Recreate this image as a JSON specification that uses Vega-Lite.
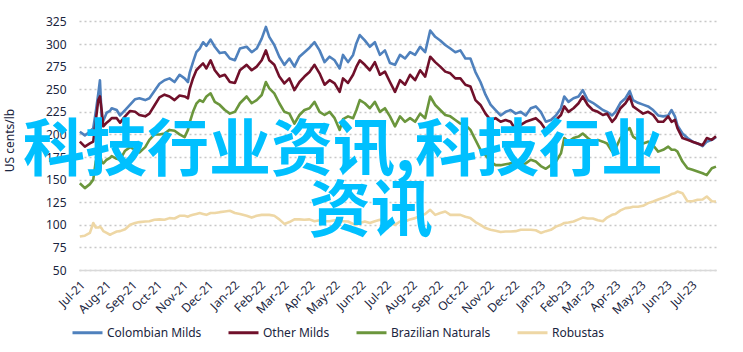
{
"$schema": "https://vega.github.io/schema/vega-lite/v6.json",
"width": 637, "height": 249,
"autosize": "none",
"padding": {"left": 79, "top": 21, "right": 27, "bottom": 82},
"background": "white",
"config": {"view": {"stroke": null}, "font": "Noto Sans"},
"resolve": {"scale": {"y": "shared", "x": "shared"}},
"layer": [
{
"data": {"values": [
{"date":"2021/07/02","Colombian Milds":203,"Other Milds":192,"Brazilian Naturals":146,"Robustas":87},
{"date":"2021/07/08","Colombian Milds":199,"Other Milds":186.5,"Brazilian Naturals":140.6,"Robustas":88},
{"date":"2021/07/14","Colombian Milds":203,"Other Milds":190,"Brazilian Naturals":145,"Robustas":91},
{"date":"2021/07/18","Colombian Milds":207,"Other Milds":192,"Brazilian Naturals":150,"Robustas":102},
{"date":"2021/07/21","Colombian Milds":225,"Other Milds":215,"Brazilian Naturals":170,"Robustas":97},
{"date":"2021/07/24","Colombian Milds":245,"Other Milds":238,"Brazilian Naturals":180,"Robustas":97},
{"date":"2021/07/26","Colombian Milds":260,"Other Milds":242,"Brazilian Naturals":178,"Robustas":98},
{"date":"2021/07/28","Colombian Milds":219,"Other Milds":227,"Brazilian Naturals":170,"Robustas":96},
{"date":"2021/07/30","Colombian Milds":215,"Other Milds":209,"Brazilian Naturals":168,"Robustas":93},
{"date":"2021/08/03","Colombian Milds":224,"Other Milds":213,"Brazilian Naturals":172,"Robustas":91},
{"date":"2021/08/07","Colombian Milds":226,"Other Milds":216,"Brazilian Naturals":174,"Robustas":89},
{"date":"2021/08/09","Colombian Milds":229,"Other Milds":218,"Brazilian Naturals":176,"Robustas":90},
{"date":"2021/08/15","Colombian Milds":227,"Other Milds":218,"Brazilian Naturals":173,"Robustas":92.6},
{"date":"2021/08/19","Colombian Milds":221,"Other Milds":213,"Brazilian Naturals":172,"Robustas":93},
{"date":"2021/08/25","Colombian Milds":227,"Other Milds":220,"Brazilian Naturals":182,"Robustas":95},
{"date":"2021/08/31","Colombian Milds":233,"Other Milds":226,"Brazilian Naturals":186,"Robustas":100},
{"date":"2021/09/06","Colombian Milds":239,"Other Milds":225,"Brazilian Naturals":183,"Robustas":102},
{"date":"2021/09/11","Colombian Milds":240,"Other Milds":221.5,"Brazilian Naturals":180,"Robustas":103},
{"date":"2021/09/18","Colombian Milds":238,"Other Milds":220,"Brazilian Naturals":186,"Robustas":103.7},
{"date":"2021/09/23","Colombian Milds":240,"Other Milds":223,"Brazilian Naturals":194,"Robustas":104},
{"date":"2021/09/29","Colombian Milds":248,"Other Milds":232,"Brazilian Naturals":200,"Robustas":105.6},
{"date":"2021/10/05","Colombian Milds":256,"Other Milds":241,"Brazilian Naturals":200,"Robustas":106},
{"date":"2021/10/11","Colombian Milds":260,"Other Milds":244,"Brazilian Naturals":201,"Robustas":105.6},
{"date":"2021/10/17","Colombian Milds":262,"Other Milds":242,"Brazilian Naturals":205,"Robustas":107.4},
{"date":"2021/10/23","Colombian Milds":258,"Other Milds":238,"Brazilian Naturals":204,"Robustas":107},
{"date":"2021/10/29","Colombian Milds":266,"Other Milds":243,"Brazilian Naturals":200,"Robustas":110},
{"date":"2021/11/04","Colombian Milds":262,"Other Milds":242,"Brazilian Naturals":197,"Robustas":110},
{"date":"2021/11/08","Colombian Milds":258,"Other Milds":240,"Brazilian Naturals":205,"Robustas":109},
{"date":"2021/11/10","Colombian Milds":268,"Other Milds":250,"Brazilian Naturals":213,"Robustas":110},
{"date":"2021/11/14","Colombian Milds":280,"Other Milds":262,"Brazilian Naturals":225,"Robustas":111},
{"date":"2021/11/18","Colombian Milds":291,"Other Milds":271,"Brazilian Naturals":234,"Robustas":112},
{"date":"2021/11/22","Colombian Milds":295,"Other Milds":275,"Brazilian Naturals":238,"Robustas":113},
{"date":"2021/11/26","Colombian Milds":302,"Other Milds":278.6,"Brazilian Naturals":236,"Robustas":112},
{"date":"2021/11/30","Colombian Milds":298,"Other Milds":273,"Brazilian Naturals":242,"Robustas":111},
{"date":"2021/12/05","Colombian Milds":305,"Other Milds":282,"Brazilian Naturals":245.5,"Robustas":113},
{"date":"2021/12/10","Colombian Milds":297,"Other Milds":271,"Brazilian Naturals":236,"Robustas":113},
{"date":"2021/12/16","Colombian Milds":290,"Other Milds":264,"Brazilian Naturals":232.6,"Robustas":114},
{"date":"2021/12/22","Colombian Milds":291,"Other Milds":266,"Brazilian Naturals":227,"Robustas":114.7},
{"date":"2021/12/28","Colombian Milds":284,"Other Milds":258,"Brazilian Naturals":223,"Robustas":115.5},
{"date":"2022/01/03","Colombian Milds":282,"Other Milds":257,"Brazilian Naturals":225,"Robustas":113},
{"date":"2022/01/09","Colombian Milds":295,"Other Milds":271,"Brazilian Naturals":234.5,"Robustas":112},
{"date":"2022/01/17","Colombian Milds":297,"Other Milds":277,"Brazilian Naturals":242,"Robustas":110},
{"date":"2022/01/23","Colombian Milds":291,"Other Milds":271,"Brazilian Naturals":234.5,"Robustas":108},
{"date":"2022/01/29","Colombian Milds":295,"Other Milds":275,"Brazilian Naturals":238,"Robustas":110},
{"date":"2022/02/04","Colombian Milds":306,"Other Milds":282,"Brazilian Naturals":243.6,"Robustas":111},
{"date":"2022/02/09","Colombian Milds":319,"Other Milds":293,"Brazilian Naturals":258,"Robustas":111},
{"date":"2022/02/13","Colombian Milds":308,"Other Milds":282,"Brazilian Naturals":251,"Robustas":111},
{"date":"2022/02/19","Colombian Milds":299,"Other Milds":277,"Brazilian Naturals":245.5,"Robustas":110},
{"date":"2022/02/25","Colombian Milds":286,"Other Milds":264,"Brazilian Naturals":234.5,"Robustas":106},
{"date":"2022/03/03","Colombian Milds":277,"Other Milds":256.5,"Brazilian Naturals":225,"Robustas":101},
{"date":"2022/03/09","Colombian Milds":284,"Other Milds":262,"Brazilian Naturals":223,"Robustas":103},
{"date":"2022/03/15","Colombian Milds":275,"Other Milds":249,"Brazilian Naturals":212,"Robustas":106},
{"date":"2022/03/21","Colombian Milds":286,"Other Milds":258,"Brazilian Naturals":221.5,"Robustas":106},
{"date":"2022/03/27","Colombian Milds":291,"Other Milds":264,"Brazilian Naturals":227,"Robustas":105.6},
{"date":"2022/04/02","Colombian Milds":296,"Other Milds":269,"Brazilian Naturals":229,"Robustas":106},
{"date":"2022/04/08","Colombian Milds":302,"Other Milds":277,"Brazilian Naturals":236,"Robustas":104},
{"date":"2022/04/14","Colombian Milds":293,"Other Milds":267.6,"Brazilian Naturals":225,"Robustas":105},
{"date":"2022/04/20","Colombian Milds":280,"Other Milds":255,"Brazilian Naturals":221.5,"Robustas":104},
{"date":"2022/04/26","Colombian Milds":286,"Other Milds":260,"Brazilian Naturals":225,"Robustas":104},
{"date":"2022/05/02","Colombian Milds":282,"Other Milds":256.5,"Brazilian Naturals":218,"Robustas":105},
{"date":"2022/05/08","Colombian Milds":273,"Other Milds":247,"Brazilian Naturals":205,"Robustas":104},
{"date":"2022/05/12","Colombian Milds":288,"Other Milds":262,"Brazilian Naturals":217,"Robustas":104},
{"date":"2022/05/18","Colombian Milds":280,"Other Milds":257,"Brazilian Naturals":220,"Robustas":103.7},
{"date":"2022/05/24","Colombian Milds":288,"Other Milds":266,"Brazilian Naturals":218,"Robustas":101},
{"date":"2022/05/28","Colombian Milds":301,"Other Milds":275,"Brazilian Naturals":227,"Robustas":100},
{"date":"2022/06/01","Colombian Milds":310,"Other Milds":282,"Brazilian Naturals":238,"Robustas":102},
{"date":"2022/06/07","Colombian Milds":304,"Other Milds":277,"Brazilian Naturals":234.5,"Robustas":103.7},
{"date":"2022/06/13","Colombian Milds":297,"Other Milds":271,"Brazilian Naturals":229,"Robustas":102},
{"date":"2022/06/19","Colombian Milds":302,"Other Milds":280,"Brazilian Naturals":236,"Robustas":104},
{"date":"2022/06/25","Colombian Milds":288,"Other Milds":266,"Brazilian Naturals":225,"Robustas":105.6},
{"date":"2022/07/01","Colombian Milds":293,"Other Milds":269.5,"Brazilian Naturals":229,"Robustas":104},
{"date":"2022/07/07","Colombian Milds":279,"Other Milds":258,"Brazilian Naturals":220,"Robustas":102},
{"date":"2022/07/13","Colombian Milds":277,"Other Milds":247,"Brazilian Naturals":209,"Robustas":100},
{"date":"2022/07/19","Colombian Milds":288,"Other Milds":260,"Brazilian Naturals":220,"Robustas":103.7},
{"date":"2022/07/25","Colombian Milds":284,"Other Milds":255,"Brazilian Naturals":214,"Robustas":103.7},
{"date":"2022/07/31","Colombian Milds":291,"Other Milds":266,"Brazilian Naturals":218,"Robustas":106},
{"date":"2022/08/06","Colombian Milds":288,"Other Milds":260,"Brazilian Naturals":214,"Robustas":107.4},
{"date":"2022/08/12","Colombian Milds":297,"Other Milds":271,"Brazilian Naturals":223,"Robustas":110},
{"date":"2022/08/18","Colombian Milds":291,"Other Milds":264,"Brazilian Naturals":218,"Robustas":112},
{"date":"2022/08/24","Colombian Milds":315,"Other Milds":286,"Brazilian Naturals":242,"Robustas":116.6},
{"date":"2022/08/30","Colombian Milds":308,"Other Milds":280,"Brazilian Naturals":232.6,"Robustas":111},
{"date":"2022/09/05","Colombian Milds":304,"Other Milds":275,"Brazilian Naturals":227,"Robustas":113},
{"date":"2022/09/11","Colombian Milds":299,"Other Milds":269.5,"Brazilian Naturals":221.5,"Robustas":114.7},
{"date":"2022/09/17","Colombian Milds":295,"Other Milds":267.6,"Brazilian Naturals":220,"Robustas":111},
{"date":"2022/09/23","Colombian Milds":291,"Other Milds":262,"Brazilian Naturals":216,"Robustas":111},
{"date":"2022/09/29","Colombian Milds":293,"Other Milds":262,"Brazilian Naturals":212,"Robustas":111},
{"date":"2022/10/05","Colombian Milds":284,"Other Milds":255,"Brazilian Naturals":210.5,"Robustas":109},
{"date":"2022/10/11","Colombian Milds":284,"Other Milds":253,"Brazilian Naturals":205,"Robustas":107.4},
{"date":"2022/10/17","Colombian Milds":269,"Other Milds":238,"Brazilian Naturals":194,"Robustas":103},
{"date":"2022/10/23","Colombian Milds":258,"Other Milds":232.6,"Brazilian Naturals":183,"Robustas":100},
{"date":"2022/10/29","Colombian Milds":244,"Other Milds":223,"Brazilian Naturals":177,"Robustas":96.4},
{"date":"2022/11/04","Colombian Milds":233,"Other Milds":216,"Brazilian Naturals":170,"Robustas":94.5},
{"date":"2022/11/10","Colombian Milds":227,"Other Milds":218,"Brazilian Naturals":166,"Robustas":93.5},
{"date":"2022/11/16","Colombian Milds":221,"Other Milds":214,"Brazilian Naturals":166,"Robustas":92},
{"date":"2022/11/22","Colombian Milds":225,"Other Milds":216,"Brazilian Naturals":167,"Robustas":92.6},
{"date":"2022/11/28","Colombian Milds":227,"Other Milds":214,"Brazilian Naturals":168,"Robustas":92.6},
{"date":"2022/12/04","Colombian Milds":223,"Other Milds":205,"Brazilian Naturals":170,"Robustas":93},
{"date":"2022/12/10","Colombian Milds":225,"Other Milds":210.5,"Brazilian Naturals":166,"Robustas":94.5},
{"date":"2022/12/16","Colombian Milds":221,"Other Milds":214,"Brazilian Naturals":168,"Robustas":94.5},
{"date":"2022/12/22","Colombian Milds":229,"Other Milds":216,"Brazilian Naturals":172,"Robustas":94.5},
{"date":"2022/12/28","Colombian Milds":231,"Other Milds":218,"Brazilian Naturals":170,"Robustas":94},
{"date":"2023/01/03","Colombian Milds":225,"Other Milds":213,"Brazilian Naturals":165,"Robustas":91},
{"date":"2023/01/09","Colombian Milds":214,"Other Milds":205,"Brazilian Naturals":162,"Robustas":93},
{"date":"2023/01/15","Colombian Milds":216,"Other Milds":209,"Brazilian Naturals":166,"Robustas":94.5},
{"date":"2023/01/21","Colombian Milds":221,"Other Milds":216,"Brazilian Naturals":170,"Robustas":98},
{"date":"2023/01/27","Colombian Milds":229,"Other Milds":221.5,"Brazilian Naturals":179,"Robustas":100},
{"date":"2023/01/31","Colombian Milds":242,"Other Milds":231,"Brazilian Naturals":196,"Robustas":102},
{"date":"2023/02/05","Colombian Milds":236,"Other Milds":225,"Brazilian Naturals":192,"Robustas":102.5},
{"date":"2023/02/11","Colombian Milds":240,"Other Milds":229,"Brazilian Naturals":196,"Robustas":103.7},
{"date":"2023/02/17","Colombian Milds":242,"Other Milds":234.5,"Brazilian Naturals":197.6,"Robustas":106},
{"date":"2023/02/22","Colombian Milds":249,"Other Milds":242,"Brazilian Naturals":201,"Robustas":108},
{"date":"2023/02/28","Colombian Milds":238,"Other Milds":232.6,"Brazilian Naturals":196,"Robustas":107},
{"date":"2023/03/06","Colombian Milds":235,"Other Milds":227,"Brazilian Naturals":192,"Robustas":107},
{"date":"2023/03/12","Colombian Milds":231,"Other Milds":225,"Brazilian Naturals":194,"Robustas":105},
{"date":"2023/03/18","Colombian Milds":227,"Other Milds":221.5,"Brazilian Naturals":192,"Robustas":104},
{"date":"2023/03/23","Colombian Milds":225,"Other Milds":223,"Brazilian Naturals":190,"Robustas":108},
{"date":"2023/03/29","Colombian Milds":221,"Other Milds":214,"Brazilian Naturals":181,"Robustas":111},
{"date":"2023/04/02","Colombian Milds":225,"Other Milds":218,"Brazilian Naturals":184,"Robustas":112},
{"date":"2023/04/08","Colombian Milds":235,"Other Milds":229,"Brazilian Naturals":196,"Robustas":116},
{"date":"2023/04/14","Colombian Milds":240,"Other Milds":234.5,"Brazilian Naturals":203,"Robustas":118.5},
{"date":"2023/04/19","Colombian Milds":248,"Other Milds":242,"Brazilian Naturals":207,"Robustas":119},
{"date":"2023/04/23","Colombian Milds":238,"Other Milds":231,"Brazilian Naturals":197.6,"Robustas":120},
{"date":"2023/04/29","Colombian Milds":235,"Other Milds":227,"Brazilian Naturals":194,"Robustas":120},
{"date":"2023/05/05","Colombian Milds":233,"Other Milds":223,"Brazilian Naturals":190,"Robustas":121},
{"date":"2023/05/11","Colombian Milds":231,"Other Milds":225,"Brazilian Naturals":192,"Robustas":124},
{"date":"2023/05/17","Colombian Milds":227,"Other Milds":221.5,"Brazilian Naturals":188,"Robustas":125.8},
{"date":"2023/05/23","Colombian Milds":221,"Other Milds":214,"Brazilian Naturals":181,"Robustas":128},
{"date":"2023/05/29","Colombian Milds":220,"Other Milds":214,"Brazilian Naturals":183,"Robustas":130},
{"date":"2023/06/04","Colombian Milds":221,"Other Milds":220,"Brazilian Naturals":186.5,"Robustas":132},
{"date":"2023/06/08","Colombian Milds":227,"Other Milds":214,"Brazilian Naturals":183,"Robustas":134},
{"date":"2023/06/12","Colombian Milds":220,"Other Milds":216,"Brazilian Naturals":183,"Robustas":135},
{"date":"2023/06/15","Colombian Milds":210,"Other Milds":207,"Brazilian Naturals":181,"Robustas":136.8},
{"date":"2023/06/21","Colombian Milds":201,"Other Milds":196,"Brazilian Naturals":170,"Robustas":135},
{"date":"2023/06/27","Colombian Milds":196,"Other Milds":194,"Brazilian Naturals":162.6,"Robustas":126},
{"date":"2023/07/03","Colombian Milds":192,"Other Milds":192,"Brazilian Naturals":161,"Robustas":126},
{"date":"2023/07/09","Colombian Milds":190,"Other Milds":190,"Brazilian Naturals":159,"Robustas":127.7},
{"date":"2023/07/15","Colombian Milds":187,"Other Milds":188,"Brazilian Naturals":157,"Robustas":128},
{"date":"2023/07/20","Colombian Milds":192,"Other Milds":196,"Brazilian Naturals":155,"Robustas":131.3},
{"date":"2023/07/26","Colombian Milds":194,"Other Milds":194,"Brazilian Naturals":162.6,"Robustas":126},
{"date":"2023/07/31","Colombian Milds":197,"Other Milds":198,"Brazilian Naturals":164.4,"Robustas":125.8}
]},
"transform": [{"fold": ["Colombian Milds","Other Milds","Brazilian Naturals","Robustas"], "as": ["series","value"]}],
"mark": {"type": "line", "strokeWidth": 2.6, "strokeJoin": "round"},
"encoding": {
"x": {"field": "date", "type": "temporal",
 "scale": {"domain": [{"year":2021,"month":7,"date":1},{"year":2023,"month":7,"date":31}], "nice": false},
 "axis": {"title": null, "format": "%b-%y", "tickCount": {"interval":"month","step":1}, "labelAngle": -45, "labelAlign": "right", "labelBaseline": "top", "labelPadding": 9, "labelFontSize": 12, "labelColor": "#1a2540", "ticks": false, "grid": false, "domainColor": "#d9d9d9", "domainWidth": 1.5, "labelOverlap": false, "labelFlush": false, "labelBound": false}},
"y": {"field": "value", "type": "quantitative",
 "scale": {"domain": [50, 325.5], "nice": false, "zero": false},
 "axis": {"title": "US cents/lb", "values": [50,75,100,125,150,175,200,225,250,275,300,325], "tickCount": 12, "grid": true, "gridDash": [2,3], "gridColor": "#c8c8c8", "gridWidth": 1.5, "domain": false, "ticks": false, "labelPadding": 13, "labelFontSize": 12, "labelColor": "#1a2540", "labelOverlap": false, "labelBound": false, "labelFlush": false, "titleFontSize": 12, "titleFontWeight": "normal", "titleColor": "#1a2540", "titleX": -70, "titleY": 119, "titleAngle": -90, "titleBaseline": "middle", "titleAlign": "center"}},
"color": {"field": "series", "type": "nominal",
 "scale": {"domain": ["Colombian Milds","Other Milds","Brazilian Naturals","Robustas"], "range": ["#4f81bd","#70102a","#6b963c","#eed7a5"]},
 "legend": {"orient": "none", "legendX": -8, "legendY": 295, "direction": "horizontal", "title": null, "symbolType": "stroke", "symbolSize": 900, "symbolStrokeWidth": 3, "labelFontSize": 12, "labelColor": "#1a2540", "labelOffset": 3, "columnPadding": 20, "padding": 0}}
}
},
{
"data": {"values": [
{"t": "科技行业资讯,科技行业", "date": "2022/05/12", "value": 180.7},
{"t": "资讯", "date": "2022/06/14", "value": 113.3}
]},
"mark": {"type": "text", "fontSize": 62, "fontWeight": "bold", "font": "Noto Sans CJK SC", "color": "#00c0ff", "align": "center", "baseline": "middle"},
"encoding": {
"x": {"field": "date", "type": "temporal", "scale": {"domain": [{"year":2021,"month":7,"date":1},{"year":2023,"month":7,"date":31}], "nice": false}},
"y": {"field": "value", "type": "quantitative", "scale": {"domain": [50, 325.5], "nice": false, "zero": false}},
"text": {"field": "t"}
}
}
]
}
